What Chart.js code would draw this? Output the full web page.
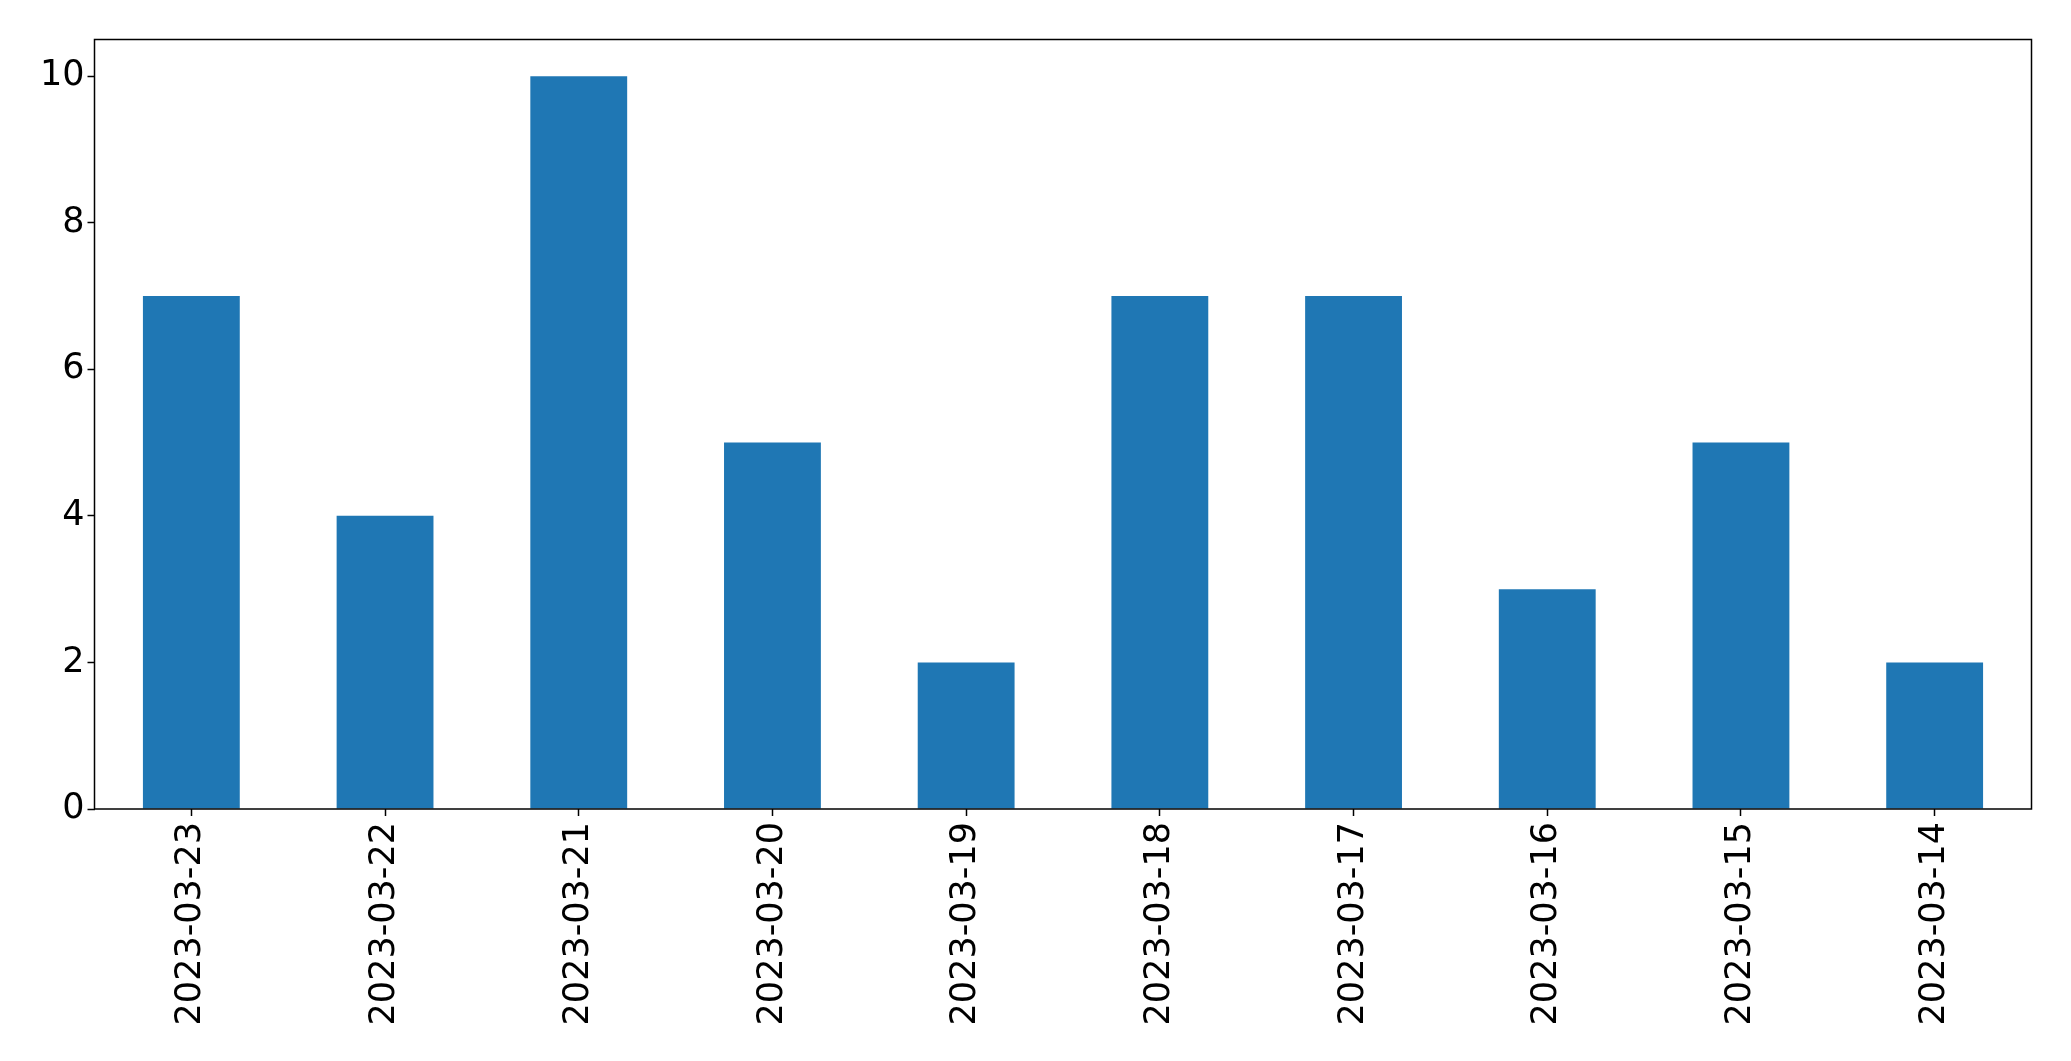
<!DOCTYPE html>
<html>
<head>
<meta charset="utf-8">
<style>
  html, body { margin: 0; padding: 0; background: #fff; }
  #wrap { width: 2071px; height: 1061px; }
</style>
<script src="https://cdn.jsdelivr.net/npm/chart.js@4/dist/chart.umd.min.js"></script>
</head>
<body>
<div id="wrap"><canvas id="myChart" width="2071" height="1061"></canvas></div>
<script>
'use strict';
// dates as they appear on the x axis (newest first)
const dates = ['2023-03-23','2023-03-22','2023-03-21','2023-03-20','2023-03-19',
  '2023-03-18','2023-03-17','2023-03-16','2023-03-15','2023-03-14'];
const counts = [7, 4, 10, 5, 2, 7, 7, 3, 5, 2];
const yTicks = [0, 2, 4, 6, 8, 10];

const fontFam = "'DejaVu Sans', sans-serif";

// the frame round the plot (matplotlib style box)
const boxPlugin = {
  id: 'box',
  afterDraw(chart) {
    const a = chart.chartArea;
    const ctx = chart.ctx;
    ctx.save();
    ctx.strokeStyle = '#000';
    ctx.lineWidth = 1.5;
    ctx.strokeRect(a.left, a.top, a.right - a.left, a.bottom - a.top);
    ctx.restore();
  }
};

let ctx = document.getElementById('myChart').getContext('2d');
let myChart = new Chart(ctx, {
  type: 'bar',
  data: {
    labels: dates,
    datasets: [{
      data: counts,
      backgroundColor: '#1f77b4',
      borderWidth: 0,
      categoryPercentage: 1,
      barPercentage: 0.5
    }]
  },
  options: {
    responsive: false,
    animation: false,
    layout: { padding: { left: 0, right: 39.5, top: 39.5, bottom: 0 } },
    plugins: { legend: { display: false }, tooltip: { enabled: false } },
    scales: {
      x: {
        offset: true,
        grid: { display: true, offset: false, drawOnChartArea: false, drawTicks: true,
          tickLength: 7, tickWidth: 1.5, color: '#000' },
        border: { display: false },
        ticks: { color: '#000', font: { family: fontFam, size: 35 },
          minRotation: 90, maxRotation: 90, padding: 6, autoSkip: false },
        afterFit(scale) { scale.height = 1061 - 809; }
      },
      y: {
        min: 0,
        max: 10.5,
        grid: { display: true, drawOnChartArea: false, drawTicks: true,
          tickLength: 7, tickWidth: 1.5, color: '#000' },
        border: { display: false },
        ticks: { color: '#000', font: { family: fontFam, size: 35 }, padding: 3 },
        afterBuildTicks(scale) {
          scale.ticks = yTicks.map(v => ({ value: v }));
        },
        afterFit(scale) { scale.width = 94.5; }
      }
    }
  },
  plugins: [boxPlugin]
});
</script>
</body>
</html>
